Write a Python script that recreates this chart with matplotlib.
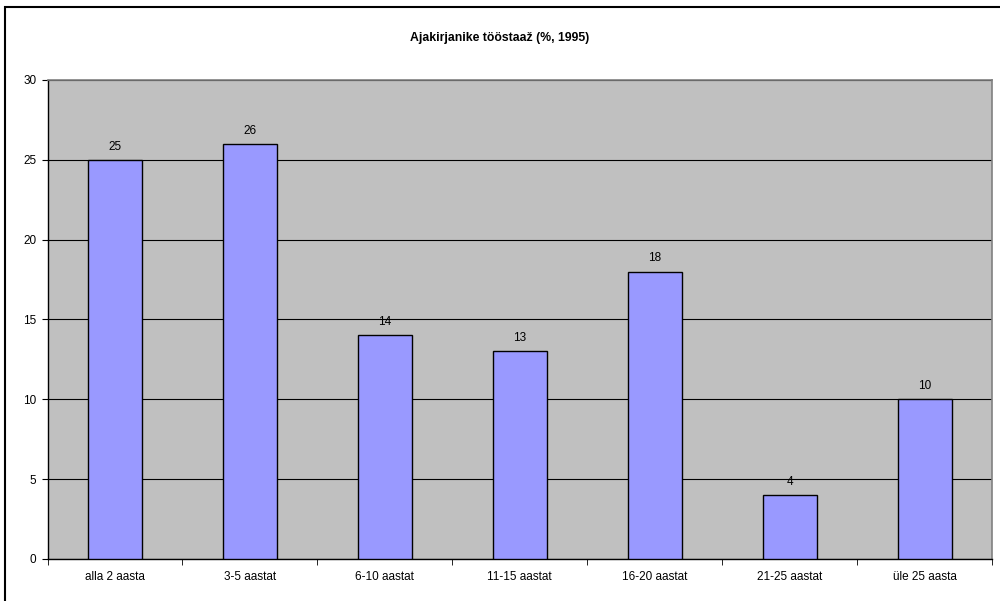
import matplotlib.pyplot as plt
from matplotlib.patches import Rectangle

plt.rcParams['font.family'] = ['Liberation Sans', 'DejaVu Sans']

categories = ['alla 2 aasta', '3-5 aastat', '6-10 aastat', '11-15 aastat',
              '16-20 aastat', '21-25 aastat', 'üle 25 aasta']
values = [25, 26, 14, 13, 18, 4, 10]

fig = plt.figure(figsize=(10, 6.01), dpi=100)

# chart area frame (clipped at right/bottom like the original export)
fig.patches.append(Rectangle((0.005, -0.05), 1.2, 1.038, transform=fig.transFigure,
                             fill=False, edgecolor='black', linewidth=1.5))

ax = fig.add_axes([0.0475, 0.0699, 0.9445, 0.797])
ax.set_facecolor('#C0C0C0')

x = list(range(len(categories)))
bars = ax.bar(x, values, width=0.4, color='#9999FF', edgecolor='black',
              linewidth=1, zorder=3)
for xi, v in zip(x, values):
    ax.text(xi, v + 0.45, str(v), ha='center', va='bottom', fontsize=8.5, zorder=4)

ax.set_xlim(-0.5, len(categories) - 0.5)
ax.set_ylim(0, 30)
ax.set_yticks(range(0, 31, 5))
ax.yaxis.grid(True, color='black', linewidth=0.8, zorder=1)
ax.set_axisbelow(True)

ax.set_xticks(x)
ax.set_xticklabels(categories)
ax.set_xticks([i - 0.5 for i in range(len(categories) + 1)], minor=True)
ax.tick_params(axis='x', which='major', length=0, pad=9, labelsize=8.5)
ax.tick_params(axis='x', which='minor', length=4, direction='out', color='black')
ax.tick_params(axis='y', length=4, direction='out', labelsize=8.5, pad=4)

for side in ('top', 'right'):
    ax.spines[side].set_color('#808080')
    ax.spines[side].set_linewidth(1.2)
for side in ('left', 'bottom'):
    ax.spines[side].set_color('black')
    ax.spines[side].set_linewidth(1)

fig.text(0.5, 0.937, 'Ajakirjanike tööstaaž (%, 1995)', ha='center', va='center',
         fontsize=8.8, fontweight='bold')

fig.savefig('out.png', dpi=100)
